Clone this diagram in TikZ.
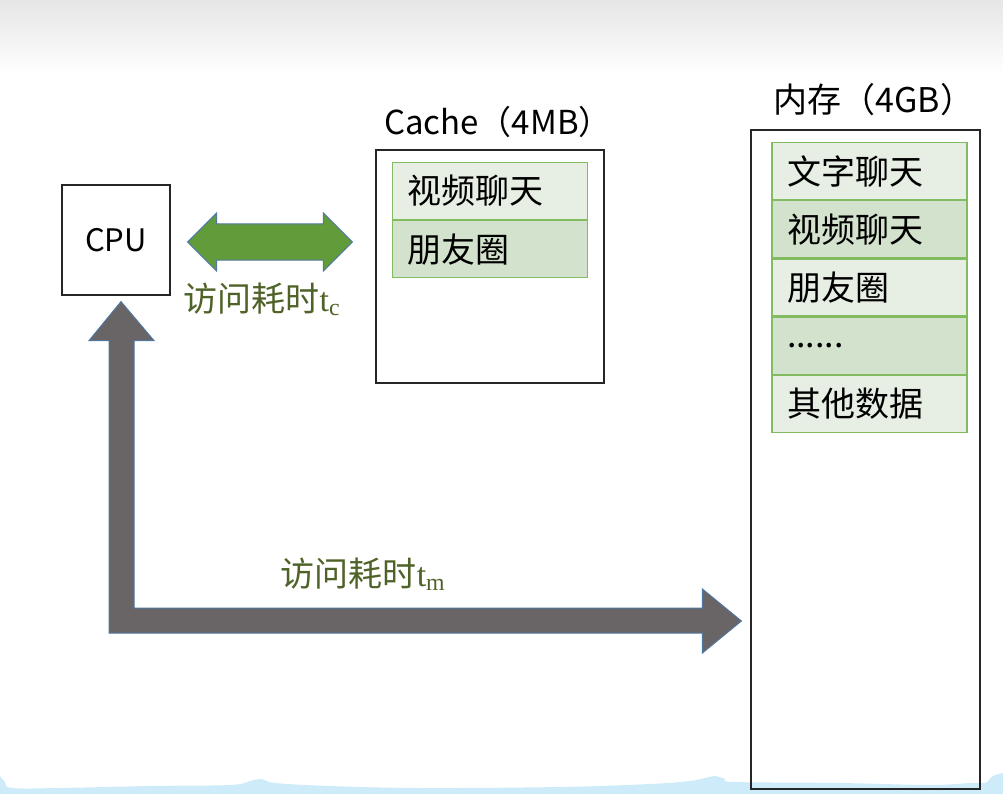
\documentclass[tikz,border=0pt]{standalone}
\usepackage{fontspec}
\setmainfont{Noto Sans CJK SC}
\newfontfamily\serif{Liberation Serif}
\usepackage{tikz}
\usetikzlibrary{calc, positioning}

\definecolor{cellA}{RGB}{231,239,228}
\definecolor{cellB}{RGB}{210,226,204}
\definecolor{cellLine}{RGB}{130,187,96}
\definecolor{labelGreen}{RGB}{79,98,40}
\definecolor{arrowGreen}{RGB}{98,155,58}
\definecolor{arrowGray}{RGB}{105,100,101}
\definecolor{arrowEdge}{RGB}{80,120,160}
\definecolor{waveBlue}{RGB}{205,235,248}

\begin{document}
\begin{tikzpicture}[x=1pt, y=-1pt,
    box/.style={draw=black!85, line width=1.2pt, inner sep=0pt},
    cell/.style={draw=cellLine, line width=1.2pt, minimum height=57pt, inner xsep=15pt,
        inner ysep=0pt, text width=165pt, align=left, font=\fontsize{34}{36}\selectfont},
    lbl/.style={font=\fontsize{34}{36}\selectfont, text=labelGreen, inner sep=0pt},
    fat/.style={line width=1pt, draw=arrowEdge, line join=miter}]
    \useasboundingbox (0,0) rectangle (1003,794);

    % Background
    \shade[top color=black!10, bottom color=white] (0,0) rectangle (1003,75);
    \fill[waveBlue] plot[smooth, tension=0.6] coordinates {(0,776) (5,782) (12,788) (60,788)
        (150,786) (230,785) (250,781) (262,779) (275,783) (330,786) (420,788) (560,787)
        (650,784) (690,781) (705,778) (715,776) (725,779) (735,782) (840,783) (930,785)
        (970,783) (985,783) (993,776) (1003,773)} -- (1003,794) -- (0,794) -- cycle;

    % Boxes
    \node[box, minimum width=108pt, minimum height=110pt, font=\fontsize{31}{34}\selectfont] (cpu) at (116,240) {CPU};
    \node[box, minimum width=228pt, minimum height=233pt] (cache) at (490,266.5) {};
    \node[box, minimum width=229pt, minimum height=659pt] (mem) at (865.5,459.5) {};
    \node[above=12pt of cache, xshift=8pt, font=\fontsize{33}{36}\selectfont, inner sep=0pt] (cache_lbl) {Cache（4MB）};
    \node[font=\fontsize{34}{36}\selectfont, inner sep=0pt] (mem_lbl) at (874,100) {内存（4GB）};

    % Cache lines
    \node[cell, fill=cellA, anchor=north] (C1) at (490,162) {视频聊天};
    \node[cell, fill=cellB, below=0pt of C1] (C2) {朋友圈};

    % Memory lines
    \node[cell, fill=cellA, anchor=north] (M1) at (869.5,142) {文字聊天};
    \node[cell, fill=cellB, below=0pt of M1] (M2) {视频聊天};
    \node[cell, fill=cellA, below=0pt of M2] (M3) {朋友圈};
    \node[cell, fill=cellB, below=0pt of M3] (M4) {......};
    \node[cell, fill=cellA, below=0pt of M4] (M5) {其他数据};

    % CPU <-> Cache
    \coordinate (g_l) at ($(cpu.east)+(17,2)$);
    \coordinate (g_r) at ($(g_l -| cache.west)+(-23,0)$);
    \filldraw[fat, fill=arrowGreen] (g_l) -- ++(29,-29) -- ++(0,11) -- ($(g_r)+(-29,-18)$) -- ++(0,-11)
        -- (g_r) -- ++(-29,29) -- ++(0,-11) -- ($(g_l)+(29,18)$) -- ++(0,11) -- cycle;
    \node[lbl] (t_c) at (262,299) {访问耗时{\serif t\textsubscript{c}}};

    % CPU <-> Memory
    \path (0,621) coordinate (k_lvl);
    \coordinate (k_up) at ($(cpu.south)+(5,6)$);
    \coordinate (k_right) at ($(mem.west |- k_lvl)+(-9,0)$);
    \filldraw[fat, fill=arrowGray] (k_up) -- ($(k_up)+(33,39)$) -- ($(k_up)+(13,39)$)
        -- ($(k_up |- k_right)+(13,-13)$) -- ($(k_right)+(-39,-13)$) -- ($(k_right)+(-39,-32)$)
        -- (k_right) -- ($(k_right)+(-39,32)$) -- ($(k_right)+(-39,12)$)
        -- ($(k_up |- k_right)+(-12,12)$) -- ($(k_up)+(-12,39)$) -- ($(k_up)+(-32,39)$) -- cycle;
    \node[lbl] (t_m) at (363,574) {访问耗时{\serif t\textsubscript{m}}};

\end{tikzpicture}
\end{document}
